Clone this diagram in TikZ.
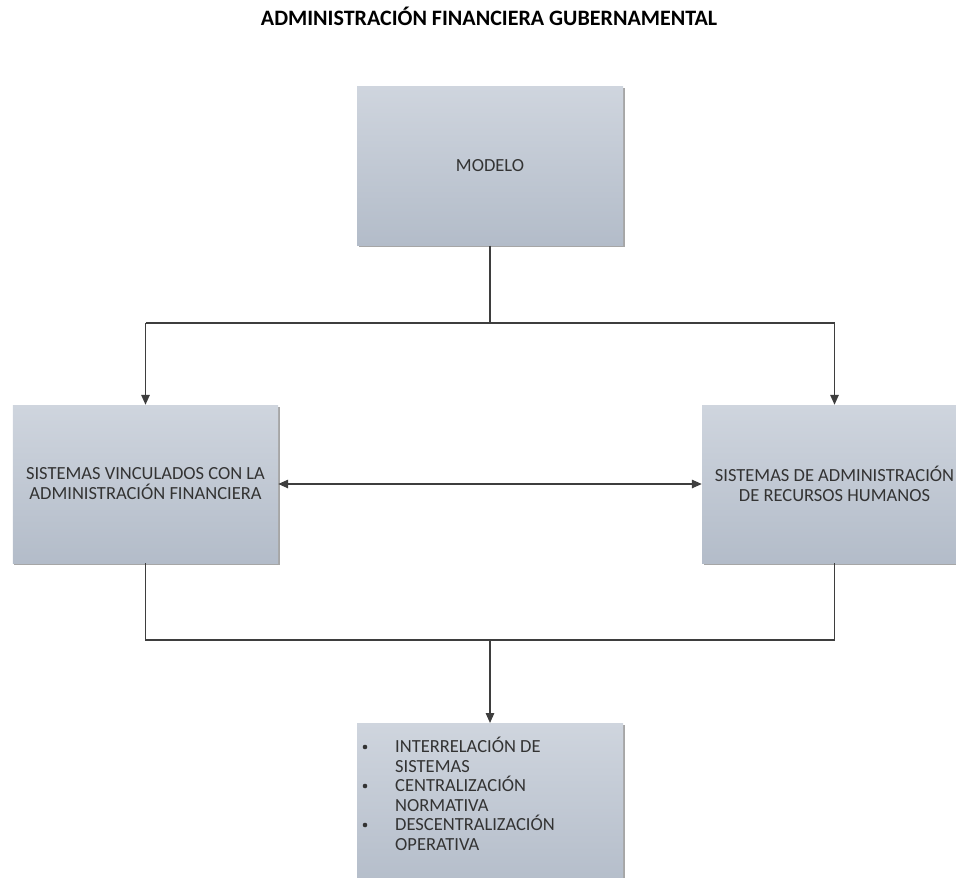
\documentclass[tikz,border=0pt]{standalone}
\usepackage{fontspec}
\setmainfont{Carlito}
\usetikzlibrary{arrows.meta,shadows,positioning}
\definecolor{boxtop}{HTML}{CFD5DE}
\definecolor{boxbot}{HTML}{B3BCC9}
\definecolor{txt}{HTML}{333333}
\definecolor{wire}{HTML}{3E3E3E}
\tikzset{
  panel/.style={rectangle, draw=none, top color=boxtop, bottom color=boxbot,
    drop shadow={shadow xshift=1.5bp, shadow yshift=-1.5bp, fill=black, opacity=0.35},
    text=txt, font=\fontsize{18.5bp}{20bp}\selectfont, align=center, inner sep=0pt},
  wireline/.style={draw=wire, line width=1.4bp},
  arr/.style={wireline, -{Triangle[length=10bp,width=8.5bp]}},
  darr/.style={wireline, {Triangle[length=10bp,width=8.5bp]}-{Triangle[length=10bp,width=8.5bp]}},
}
\begin{document}
\begin{tikzpicture}[x=1bp,y=-1bp]
  \useasboundingbox (0,0) rectangle (956,878);
  \clip (0,0) rectangle (956,878);

  % title
  \node[anchor=base] (title) at (489,25) {\fontsize{22bp}{25bp}\selectfont\bfseries ADMINISTRACIÓN FINANCIERA GUBERNAMENTAL};

  % boxes
  \node[panel, minimum width=266bp, minimum height=159bp] (modelo) at (490,166) {MODELO};
  \node[panel, minimum width=265bp, minimum height=158bp] (sva) at (145.5,484)
    {SISTEMAS VINCULADOS CON LA\\ADMINISTRACIÓN FINANCIERA};
  \node[panel, minimum width=265bp, minimum height=158bp] (sar) at (834.5,484)
    {SISTEMAS DE ADMINISTRACIÓN\\DE RECURSOS HUMANOS};
  \node[panel, minimum width=266bp, minimum height=170bp, anchor=north] (res) at (490,723) {};

  % bullet list inside the bottom box
  \node[text=txt, font=\fontsize{18.5bp}{19.5bp}\selectfont, anchor=north west, inner sep=0pt, align=left]
    (list) at (395,737) {INTERRELACIÓN DE\\SISTEMAS\\CENTRALIZACIÓN\\NORMATIVA\\DESCENTRALIZACIÓN\\OPERATIVA};
  \foreach \yy in {747,786,825} {
    \fill[txt] (365,\yy) circle (2.3bp);
  }

  % connectors
  \coordinate (split) at (modelo.south |- 0,323);
  \coordinate (joinL) at (sva.south |- 0,640);
  \coordinate (joinR) at (sar.south |- 0,640);
  \coordinate (join) at (res.north |- 0,640);
  \draw[wireline] (modelo.south) -- (split);
  \draw[wireline] (sva.north |- split) -- (sar.north |- split);
  \draw[arr] (sva.north |- split) -- (sva.north);
  \draw[arr] (sar.north |- split) -- (sar.north);
  \draw[darr] (sva.east) -- (sar.west);
  \draw[wireline] (sva.south) -- (joinL) -- (joinR) -- (sar.south);
  \draw[arr] (join) -- (res.north);
\end{tikzpicture}
\end{document}
